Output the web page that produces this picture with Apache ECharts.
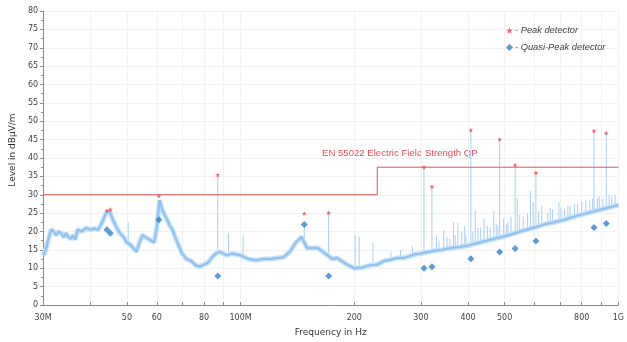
<!DOCTYPE html>
<html>
<head>
<meta charset="utf-8">
<script src="https://cdn.jsdelivr.net/npm/echarts@6/dist/echarts.min.js"></script>
<style>
  html, body { margin: 0; padding: 0; background: #fff; }
  #chart { width: 627px; height: 342px; }
</style>
</head>
<body>
<div id="chart"></div>
<script>
// sweep trace, MHz / dBuV/m
const traceFreq = [30, 30.5, 31, 31.5, 32, 32.5, 33, 33.5, 34, 34.5, 35, 35.5, 36, 36.5, 37, 38, 39, 40, 41, 42, 43, 44, 45, 46, 47, 48, 49, 50, 51, 52, 53, 54, 55, 56, 57, 58, 59, 60, 61, 62, 63, 64, 65, 66, 68, 70, 72, 74, 76, 78, 80, 82, 84, 86, 88, 90, 92, 95, 100, 105, 110, 115, 120, 125, 130, 135, 140, 145, 150, 155, 160, 165, 170, 175, 180, 190, 200, 210, 220, 230, 240, 250, 260, 270, 280, 290, 300, 320, 340, 360, 380, 400, 430, 460, 490, 520, 550, 580, 610, 640, 680, 720, 760, 800, 850, 900, 950, 1000]
const traceLevel = [13.5, 15, 18, 20.5, 20, 19, 20, 19.5, 18.5, 19.5, 18.5, 18, 19, 17.8, 20.5, 20, 21, 20.5, 20.8, 20.5, 22.5, 25, 25.5, 23, 21, 19.5, 18.5, 17, 16.5, 15.5, 14.5, 17, 19, 18.5, 18, 17.5, 17, 21, 28.5, 26, 24.5, 23, 21.5, 20.5, 17, 14, 12.5, 12, 10.8, 10.5, 11, 11.5, 13, 14, 14.5, 14, 13.5, 14, 13.5, 12.5, 12.2, 12.5, 12.5, 12.8, 13, 14.5, 17, 18.5, 15.5, 15.5, 15.5, 14.5, 13.5, 12.5, 12.8, 11.2, 10, 10.2, 10.8, 11, 12, 12.3, 12.8, 12.8, 13.3, 13.8, 14, 14.6, 15, 15.5, 15.8, 16.2, 17, 17.8, 18.5, 19.2, 20, 20.7, 21.3, 22, 22.6, 23.2, 24, 24.6, 25.3, 26, 26.6, 27.2]

// narrow spikes on the trace: frequency, top level
const spikeFreq = [50.4, 87, 92.9, 101.5, 147.4, 171, 201, 206, 224, 250, 265, 285, 305.8, 321, 330, 335, 345, 352, 358, 366, 370, 376, 385, 392, 395, 407, 412, 418, 425, 432, 441, 450, 458, 468, 475, 480, 485, 497, 505, 510, 520, 533, 540, 548, 560, 575, 585, 595, 605, 615, 627, 650, 660, 670, 696, 705, 720, 735, 745, 765, 780, 800, 820, 840, 855, 862, 880, 890, 910, 929, 945, 960, 980]
const spikeTop = [22.5, 35.4, 19.5, 19, 22, 25.1, 19, 18.6, 17, 14.5, 15, 16, 37.5, 32.2, 19, 17.5, 20.4, 18.5, 18, 22.6, 19, 22.3, 20, 21.5, 19, 47.6, 20, 25.7, 21, 21, 23.5, 21.5, 21, 25.7, 22, 21.5, 45.1, 23.6, 22, 22.5, 24, 38.1, 29, 24.5, 24, 25, 31, 28, 36, 25.5, 27, 25, 26.5, 26, 28, 26.5, 26, 27, 27, 27.5, 27.5, 28, 28.5, 28.5, 29, 47.4, 29, 29.5, 29, 46.8, 30, 29.5, 30]

const peakFreq = [44.3, 45.2, 60.8, 87, 147.4, 171, 305.8, 321, 407, 485, 533, 605, 862, 929]
const peakLevel = [25.7, 26.0, 29.7, 35.4, 24.9, 25.1, 37.5, 32.2, 47.6, 45.1, 38.1, 36.0, 47.4, 46.8]

const qpFreq = [44.3, 45.2, 60.8, 87, 147.4, 171, 305.8, 321, 407, 485, 533, 605, 862, 929]
const qpLevel = [20.5, 19.5, 23.2, 7.9, 21.9, 7.9, 10.0, 10.4, 12.6, 14.4, 15.4, 17.4, 21.1, 22.2]

const limitFreq = [30, 230, 230, 1000]
const limitLevel = [30, 30, 37.5, 37.5]

const tickFreq = [30, 40, 50, 60, 70, 80, 90, 100, 200, 300, 400, 500, 600, 700, 800, 900, 1000]
const labelFreq = [30, 50, 60, 80, 100, 200, 300, 400, 500, 800, 1000]
const labelText = ['30M', '50', '60', '80', '100M', '200', '300', '400', '500', '800', '1G']

const lg = (f) => Math.log10(f)
const pairs = (xs, ys) => xs.map((x, i) => [lg(x), ys[i]])

// trace level under a spike (linear in log f)
const traceAt = (f) => {
  const x = lg(f)
  for (let i = 1; i < traceFreq.length; i++) {
    const x0 = lg(traceFreq[i - 1])
    const x1 = lg(traceFreq[i])
    if (x <= x1) {
      const t = (x - x0) / (x1 - x0)
      return traceLevel[i - 1] + t * (traceLevel[i] - traceLevel[i - 1])
    }
  }
  return traceLevel[traceLevel.length - 1]
}

const starPath = 'path://M50,0 L61,35 L98,35 L68,57 L79,91 L50,70 L21,91 L32,57 L2,35 L39,35 Z'
const font = 'DejaVu Sans'

const chart = echarts.init(document.getElementById('chart'), null, { renderer: 'canvas' })

chart.setOption({
  animation: false,
  grid: { left: 37, right: 4, top: 11, bottom: 35 },
  legend: {
    orient: 'vertical',
    left: 501,
    top: 21,
    itemWidth: 7,
    itemHeight: 7,
    itemGap: 8,
    data: ['- Peak detector', '- Quasi-Peak detector'],
    textStyle: { fontFamily: 'Liberation Sans', fontStyle: 'italic', fontSize: 9.3, color: '#444', padding: [0, 0, 0, -3] },
  },
  xAxis: {
    type: 'value',
    min: lg(30),
    max: lg(1000),
    name: 'Frequency in Hz',
    nameLocation: 'middle',
    nameGap: 23,
    nameTextStyle: { fontFamily: font, fontSize: 9, color: '#333' },
    axisLine: { lineStyle: { color: '#8a8a8a' } },
    axisTick: { customValues: tickFreq.map(lg), length: 3, inside: true, lineStyle: { color: '#8a8a8a' } },
    axisLabel: {
      customValues: labelFreq.map(lg),
      margin: 9,
      fontFamily: font,
      fontSize: 8,
      color: '#444',
      formatter: (v) => labelText[labelFreq.findIndex((f) => Math.abs(lg(f) - v) < 1e-6)],
    },
    splitLine: { show: true, lineStyle: { color: '#f2f2f2' } },
  },
  yAxis: {
    type: 'value',
    min: 0,
    max: 80,
    interval: 5,
    name: 'Level in dBµV/m',
    nameLocation: 'middle',
    nameGap: 19,
    nameTextStyle: { fontFamily: font, fontSize: 9, color: '#333', padding: [0, 0, 0, 16] },
    axisLine: { show: true, lineStyle: { color: '#8a8a8a' } },
    axisTick: { show: true, length: 3, lineStyle: { color: '#8a8a8a' } },
    minorTick: { show: true, splitNumber: 2, length: 2, lineStyle: { color: '#8a8a8a' } },
    axisLabel: { margin: 5, fontFamily: font, fontSize: 8, color: '#444' },
    splitLine: { show: true, lineStyle: { color: '#f2f2f2' } },
  },
  graphic: [
    {
      type: 'text',
      left: 322,
      top: 148,
      style: { text: 'EN 55022 Electric Field Strength QP', fontFamily: 'Liberation Sans', fontSize: 9.6, fill: '#e0505a' },
    },
  ],
  series: [
    {
      name: 'spikes',
      type: 'custom',
      clip: true,
      silent: true,
      data: spikeFreq.map((f, i) => [lg(f), spikeTop[i], traceAt(f)]),
      renderItem: (params, api) => {
        const top = api.coord([api.value(0), api.value(1)])
        const bot = api.coord([api.value(0), api.value(2)])
        return {
          type: 'line',
          shape: { x1: top[0], y1: top[1], x2: bot[0], y2: bot[1] },
          style: { stroke: '#a8d0f4', lineWidth: 1 },
        }
      },
      z: 1,
    },
    {
      name: 'trace band',
      type: 'line',
      data: pairs(traceFreq, traceLevel),
      showSymbol: false,
      silent: true,
      lineStyle: { color: '#c4e0f9', width: 5 },
      z: 2,
    },
    {
      name: 'trace',
      type: 'line',
      data: pairs(traceFreq, traceLevel),
      showSymbol: false,
      lineStyle: { color: '#8cc1f0', width: 2 },
      z: 2,
    },
    {
      name: 'limit',
      type: 'line',
      data: pairs(limitFreq, limitLevel),
      showSymbol: false,
      lineStyle: { color: '#e0505a', width: 1 },
      z: 3,
    },
    {
      name: '- Peak detector',
      type: 'scatter',
      symbol: starPath,
      symbolSize: 5,
      itemStyle: { color: '#e2434f' },
      data: pairs(peakFreq, peakLevel),
      z: 4,
    },
    {
      name: '- Quasi-Peak detector',
      type: 'scatter',
      symbol: 'diamond',
      symbolSize: 7,
      itemStyle: { color: '#2f83cc' },
      data: pairs(qpFreq, qpLevel),
      z: 4,
    },
  ],
})
</script>
</body>
</html>
